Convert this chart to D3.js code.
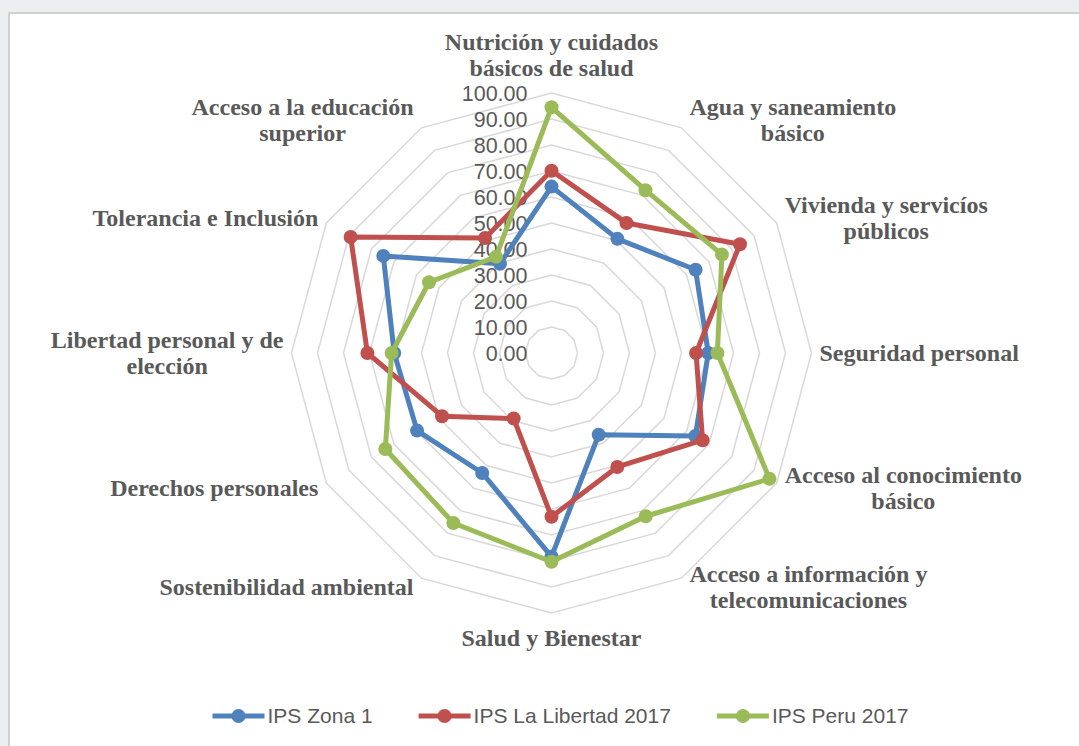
<!DOCTYPE html>
<html>
<head>
<meta charset="utf-8">
<script src="https://cdn.jsdelivr.net/npm/d3@7"></script>
<style>
  html, body { margin: 0; padding: 0; background: #eceef1; }
  svg { display: block; }
</style>
</head>
<body>
<svg id="chart" width="1079" height="746"></svg>
<script>
const categories = [
  "Nutrición y cuidados\nbásicos de salud",
  "Agua y saneamiento\nbásico",
  "Vivienda y servicíos\npúblicos",
  "Seguridad personal",
  "Acceso al conocimiento\nbásico",
  "Acceso a información y\ntelecomunicaciones",
  "Salud y Bienestar",
  "Sostenibilidad ambiental",
  "Derechos personales",
  "Libertad personal y de\nelección",
  "Tolerancia e Inclusión",
  "Acceso a la educación\nsuperior"
];

const zona1    = [64.0, 50.7, 64.0, 60.3, 63.9, 36.3, 78.3, 53.3, 59.7, 60.5, 74.7, 39.6];
const libertad = [70.1, 57.7, 83.7, 55.6, 67.1, 50.6, 63.0, 29.1, 48.6, 70.8, 89.2, 51.1];
const peru     = [94.5, 72.3, 75.7, 63.8, 96.8, 72.5, 80.3, 75.5, 73.8, 61.5, 54.4, 42.7];

const seriesNames  = ["IPS Zona 1", "IPS La Libertad 2017", "IPS Peru 2017"];
const seriesColors = ["#4f81bd", "#c0504d", "#9bbb59"];
const tickValues   = [0, 10, 20, 30, 40, 50, 60, 70, 80, 90, 100];

const series = [zona1, libertad, peru].map((v, i) => ({ name: seriesNames[i], color: seriesColors[i], values: v }));

const svg = d3.select("#chart");
const cx = 551.5, cy = 353, R = 260;
const n = categories.length;

// chart area
svg.append("rect")
    .attr("x", 9).attr("y", 13)
    .attr("width", 1090).attr("height", 760)
    .attr("fill", "#fff")
    .attr("stroke", "#d0d0d0")
    .attr("stroke-width", 2);

const r = d3.scaleLinear().domain([0, 100]).range([0, R]);
const angle = d3.scaleLinear().domain([0, n]).range([0, 2 * Math.PI]);

const g = svg.append("g").attr("transform", "translate(" + cx + "," + cy + ")");

// grid rings
const ring = d3.lineRadial()
    .angle((d, i) => angle(i))
    .radius(d => r(d))
    .curve(d3.curveLinearClosed);

g.selectAll("path.ring")
  .data(tickValues.filter(t => t > 0))
  .enter().append("path")
    .attr("class", "ring")
    .attr("d", t => ring(categories.map(() => t)))
    .attr("fill", "none")
    .attr("stroke", "#d9d9d9")
    .attr("stroke-width", 1.5);

// tick labels
g.selectAll("text.tick")
  .data(tickValues)
  .enter().append("text")
    .attr("class", "tick")
    .attr("x", -24)
    .attr("y", t => -r(t))
    .attr("dy", "0.36em")
    .attr("text-anchor", "end")
    .attr("font-family", "'Liberation Sans', Arial, sans-serif")
    .attr("font-size", 21.5)
    .attr("fill", "#595959")
    .text(t => d3.format(".2f")(t));

// series lines
const line = d3.lineRadial()
    .angle((d, i) => angle(i))
    .radius(d => r(d))
    .curve(d3.curveLinearClosed);

series.forEach(s => {
  g.append("path")
    .attr("d", line(s.values))
    .attr("fill", "none")
    .attr("stroke", s.color)
    .attr("stroke-width", 5)
    .attr("stroke-linejoin", "round");
  g.selectAll(null)
    .data(s.values)
    .enter().append("circle")
      .attr("cx", (d, i) => r(d) * Math.sin(angle(i)))
      .attr("cy", (d, i) => -r(d) * Math.cos(angle(i)))
      .attr("r", 7)
      .attr("fill", s.color);
});

// category labels
const lineH = 26;
categories.forEach((c, i) => {
  const a = angle(i);
  const sx = Math.sin(a), cyDir = -Math.cos(a);
  const vx = R * sx, vy = R * cyDir;
  const lines = c.split("\n");
  const t = g.append("text")
      .attr("font-family", "'Liberation Serif', 'Times New Roman', serif")
      .attr("font-weight", "bold")
      .attr("font-size", 24)
      .attr("fill", "#595959")
      .attr("text-anchor", "middle");
  const spans = lines.map(l => t.append("tspan").text(l));
  const widths = spans.map(s => s.node().getComputedTextLength());
  const w = d3.max(widths);
  let bx, by;
  if (Math.abs(sx) < 0.01) {
    bx = 0;
    const h = lines.length * lineH;
    by = cyDir < 0 ? vy - 12 - h / 2 : vy + 12 + h / 2;
  } else if (sx > 0) {
    bx = vx + 8 + w / 2;
    by = vy - 10 * Math.cos(a);
  } else {
    bx = vx - 8 - w / 2;
    by = vy - 10 * Math.cos(a);
  }
  const y0 = by - (lines.length - 1) * lineH / 2;
  spans.forEach((s, k) => s.attr("x", bx).attr("y", y0 + k * lineH).attr("dy", "0.35em"));
});

// legend
const legend = svg.append("g").attr("transform", "translate(0,716)");
const items = legend.selectAll("g.item")
  .data(series)
  .enter().append("g").attr("class", "item");
items.append("line")
    .attr("x1", 0).attr("x2", 52)
    .attr("stroke", d => d.color)
    .attr("stroke-width", 5);
items.append("circle")
    .attr("cx", 26).attr("r", 7)
    .attr("fill", d => d.color);
items.append("text")
    .attr("x", 55).attr("dy", "0.35em")
    .attr("font-family", "'Liberation Sans', Arial, sans-serif")
    .attr("font-size", 21)
    .attr("fill", "#595959")
    .text(d => d.name);
const gap = 46;
let xs = [], tot = 0;
items.each(function() {
  const w = this.getBBox().width;
  xs.push(tot);
  tot += w + gap;
});
tot -= gap;
const start = 560.5 - tot / 2;
items.attr("transform", (d, i) => "translate(" + (start + xs[i]) + ",0)");
</script>
</body>
</html>
